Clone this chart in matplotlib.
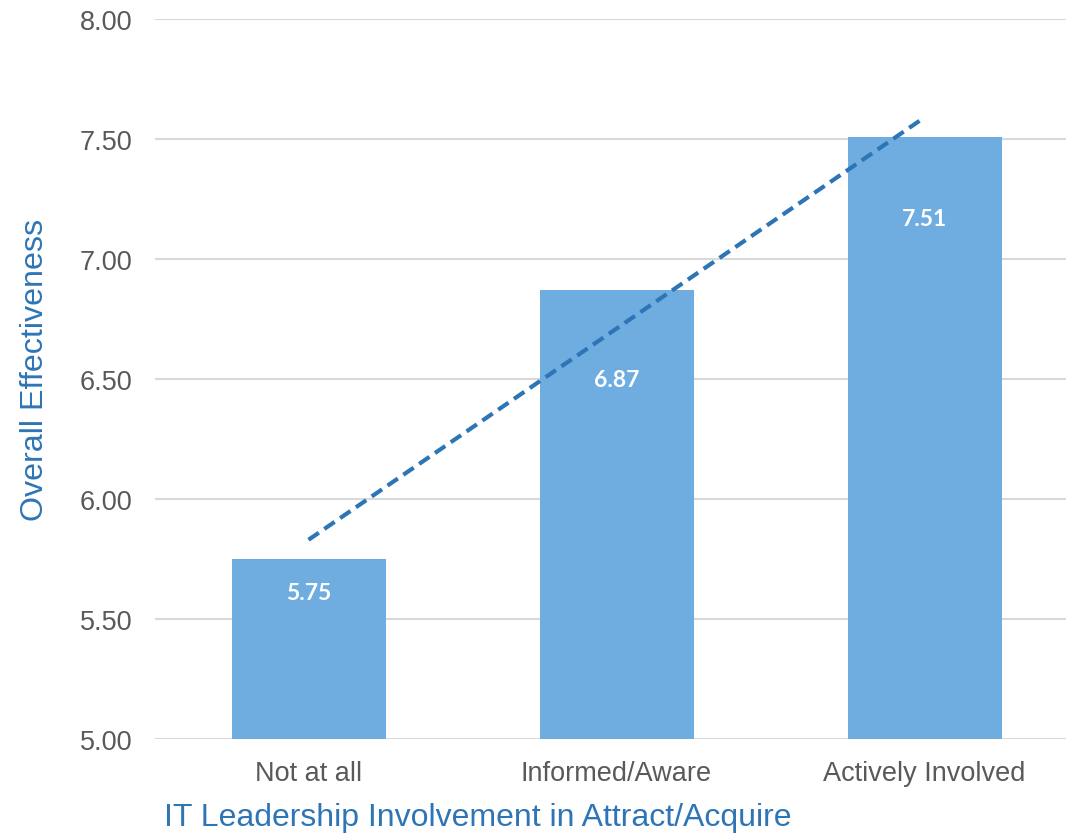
import matplotlib.pyplot as plt
import numpy as np

# data
categories = ['Not at all', 'Informed/Aware', 'Actively Involved']
effectiveness = [5.75, 6.87, 7.51]
yticks = [5.00, 5.50, 6.00, 6.50, 7.00, 7.50, 8.00]

# where the value labels sit inside the bars
label_y = [5.61, 6.50, 7.17]

bar_color = '#6FADE1'
line_color = '#2E75B6'
tick_color = '#595959'

fig = plt.figure(figsize=(10.66, 8.37), dpi=100)
ax = fig.add_axes([154.5 / 1066, 1 - 740 / 837, 924 / 1066, 720 / 837])

x = np.arange(len(categories))
ax.bar(x, effectiveness, width=0.5, color=bar_color, zorder=2)

# linear trendline
slope, intercept = np.polyfit(x, effectiveness, 1)
ax.plot(x, slope * x + intercept, linestyle=(0, (3, 1.6)), color=line_color,
        linewidth=3, zorder=3)

for xi, v, ly in zip(x, effectiveness, label_y):
    ax.text(xi, ly, f'{v:.2f}', ha='center', va='center', color='white',
            fontsize=16.5, fontweight='bold', family='Lato', zorder=4)

ax.set_xlim(-0.5, 2.5)
ax.set_ylim(5.0, 8.0)
ax.set_yticks(yticks)
ax.set_yticklabels([f'{t:.2f}' for t in yticks])
ax.set_xticks(x)
ax.set_xticklabels(categories)

ax.yaxis.grid(True, color='#D9D9D9', linewidth=1.5, zorder=0)
ax.set_axisbelow(True)
for s in ax.spines.values():
    s.set_visible(False)
ax.tick_params(axis='both', length=0, labelsize=19.5, labelcolor=tick_color)
ax.tick_params(axis='y', pad=16)
ax.tick_params(axis='x', pad=15)
for lab in ax.get_xticklabels() + ax.get_yticklabels():
    lab.set_family('Liberation Sans')

fig.text(35 / 1066, 1 - 370 / 837, 'Overall Effectiveness', rotation=90,
         ha='center', va='center', color=line_color, fontsize=23.2,
         family='Liberation Sans')
fig.text(478 / 1066, 1 - 818 / 837, 'IT Leadership Involvement in Attract/Acquire',
         ha='center', va='center', color=line_color, fontsize=23,
         family='Liberation Sans')

fig.savefig('out.png', dpi=100)
